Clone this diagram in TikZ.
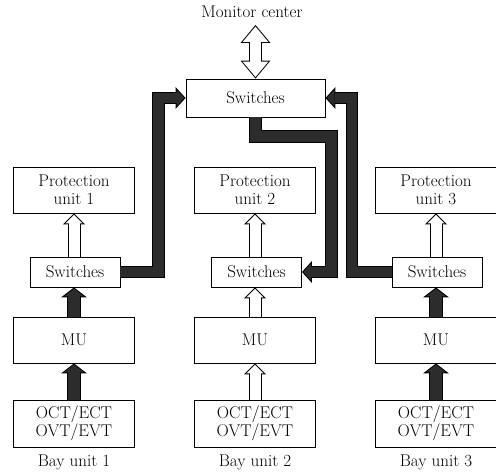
\documentclass[tikz,border=0pt]{standalone}
\usetikzlibrary{arrows.meta,calc}
\newcommand\lab{\fontsize{17}{18.5}\selectfont}
\definecolor{barfill}{HTML}{2C2C2C}
\tikzset{
  box/.style={draw, line width=0.9pt, fill=white, inner sep=0pt, align=center, font=\lab},
  bigbox/.style={box, minimum width=121pt, minimum height=46pt},
  swbox/.style={box, minimum width=90pt, minimum height=30pt},
  txt/.style={inner sep=0pt, font=\lab, anchor=base},
  hollowup/.style={draw=white, line width=11pt, shorten >=1.41pt,
    -{Triangle[width=17.2pt,length=8.6pt,line width=0pt]},
    preaction={draw=black, line width=13pt, shorten >=0pt,
      -{Triangle[width=22pt,length=11pt,line width=0pt]}}},
  darkup/.style={draw=barfill, line width=12pt, shorten >=1.26pt,
    -{Triangle[width=20.1pt,length=7.7pt,line width=0pt]},
    preaction={draw=black, line width=14pt, shorten >=0pt,
      -{Triangle[width=26pt,length=10pt,line width=0pt]}}},
  darkbent/.style={draw=barfill, line width=10.5pt, shorten >=1.35pt,
    -{Triangle[width=17pt,length=7.7pt,line width=0pt]},
    preaction={draw=black, line width=12.5pt, shorten >=0pt,
      -{Triangle[width=22pt,length=10pt,line width=0pt]}}},
  twoway/.style={draw=white, line width=11pt, shorten >=1.56pt, shorten <=1.56pt,
    {Triangle[width=25.7pt,length=15.4pt,line width=0pt]}-{Triangle[width=25.7pt,length=15.4pt,line width=0pt]},
    preaction={draw=black, line width=13pt, shorten >=0pt, shorten <=0pt,
      {Triangle[width=30pt,length=18pt,line width=0pt]}-{Triangle[width=30pt,length=18pt,line width=0pt]}}},
}
\begin{document}
\begin{tikzpicture}[x=1pt,y=-1pt]
\useasboundingbox (0,0) rectangle (496,473);
% top
\node[txt] (mon) at (252,18) {Monitor center};
\coordinate (montip) at (255.5,25);
\node[box, minimum width=139pt, minimum height=38pt] (top) at (255.5,98) {Switches};
% column 1
\node[bigbox] (p1) at (74,190) {Protection\\unit 1};
\node[swbox] (s1) at (75,272) {Switches};
\node[bigbox] (m1) at (74,340) {MU};
\node[bigbox, minimum height=47pt] (o1) at (74,423.5) {OCT/ECT\\OVT/EVT};
\node[txt] (b1) at (74,467) {Bay unit 1};
% column 2
\node[bigbox] (p2) at (255,190) {Protection\\unit 2};
\node[swbox] (s2) at (256.5,272) {Switches};
\node[bigbox] (m2) at (255,340) {MU};
\node[bigbox, minimum height=47pt] (o2) at (255,423.5) {OCT/ECT\\OVT/EVT};
\node[txt] (b2) at (255,467) {Bay unit 2};
% column 3
\node[bigbox] (p3) at (436,190) {Protection\\unit 3};
\node[swbox] (s3) at (437,272) {Switches};
\node[bigbox] (m3) at (436,340) {MU};
\node[bigbox, minimum height=47pt] (o3) at (436,423.5) {OCT/ECT\\OVT/EVT};
\node[txt] (b3) at (436,467) {Bay unit 3};
% connectors
\draw[twoway] (montip) -- (top.north);
\draw[hollowup] (s1.north -| p1.south) -- (p1.south);
\draw[darkup] (m1.north) -- (m1.north |- s1.south);
\draw[darkup] (o1.north) -- (m1.south);
\draw[hollowup] (s2.north -| p2.south) -- (p2.south);
\draw[hollowup] (m2.north) -- (m2.north |- s2.south);
\draw[hollowup] (o2.north) -- (m2.south);
\draw[hollowup] (s3.north -| p3.south) -- (p3.south);
\draw[darkup] (m3.north) -- (m3.north |- s3.south);
\draw[darkup] (o3.north) -- (m3.south);
\draw[darkbent] (s1.east) -- ++(38,0) |- (top.west);
\draw[darkbent] (s3.west) -- ++(-39.5,0) |- (top.east);
\draw[darkbent] (top.south) -- ++(0,19) -| ($(s2.east)+(29.5,0)$) -- (s2.east);
\end{tikzpicture}
\end{document}
